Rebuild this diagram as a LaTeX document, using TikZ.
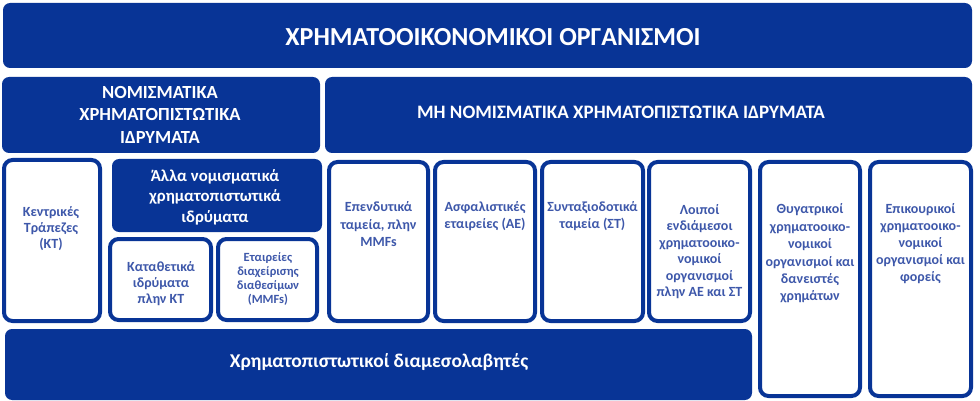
\documentclass[tikz,border=0pt]{standalone}
\usepackage{fontspec}
\setmainfont{Carlito}
\usepackage{xcolor}
\usepackage{tikz}

\definecolor{fiblue}{RGB}{8,52,150}
\definecolor{fitext}{RGB}{62,88,170}

\begin{document}
\begin{tikzpicture}[
        x=1pt,
        y=-1pt,
        banner/.style={
            rectangle,
            fill=fiblue,
            inner sep=0pt,
            rounded corners=2.5mm
        },
        bannertext/.style={
            text=white,
            align=center,
            inner sep=0pt,
            font=\bfseries\fontsize{19}{22.5}\selectfont
        },
        cell/.style={
            rectangle,
            draw=fiblue,
            line width=4pt,
            fill=white,
            inner sep=0pt,
            rounded corners=3mm
        },
        celltext/.style={
            text=fitext,
            align=center,
            inner sep=0pt,
            font=\bfseries\fontsize{14}{16.5}\selectfont
        },
        ]

        \path [fill=white,use as bounding box] (0,0) rectangle (980,401);

        % banners
        \node [banner,minimum width=969pt,minimum height=65pt] (fin-org) at (487.5,35.5) {};
        \node [banner,minimum width=318pt,minimum height=76pt] (monetary) at (161,115) {};
        \node [banner,minimum width=647pt,minimum height=76pt] (non-monetary) at (648.5,115) {};
        \node [banner,minimum width=210pt,minimum height=73pt] (other-monetary) at (217,195.5) {};
        \node [banner,minimum width=747pt,minimum height=71pt] (intermediaries) at (378.5,364.5) {};

        \node [bannertext,font=\bfseries\fontsize{26}{30}\selectfont] (fin-org-text) at (493,37) {ΧΡΗΜΑΤΟΟΙΚΟΝΟΜΙΚΟΙ ΟΡΓΑΝΙΣΜΟΙ};
        \node [bannertext,font=\bfseries\fontsize{18.5}{22.5}\selectfont] (monetary-text) at (160,114.5) {ΝΟΜΙΣΜΑΤΙΚΑ\\ΧΡΗΜΑΤΟΠΙΣΤΩΤΙΚΑ\\ΙΔΡΥΜΑΤΑ};
        \node [bannertext] (non-monetary-text) at (621,112) {ΜΗ ΝΟΜΙΣΜΑΤΙΚΑ ΧΡΗΜΑΤΟΠΙΣΤΩΤΙΚΑ ΙΔΡΥΜΑΤΑ};
        \node [bannertext,font=\bfseries\fontsize{16.75}{20.5}\selectfont] (other-monetary-text) at (215,197) {Άλλα νομισματικά\\χρηματοπιστωτικά\\ιδρύματα};
        \node [bannertext,font=\bfseries\fontsize{19.5}{22}\selectfont] (intermediaries-text) at (379,362) {Χρηματοπιστωτικοί διαμεσολαβητές};

        % cells
        \node [cell,minimum width=96pt,minimum height=161pt] (central-banks) at (52,240.5) {};
        \node [cell,minimum width=101pt,minimum height=81pt] (deposit) at (160.5,279.5) {};
        \node [cell,minimum width=99pt,minimum height=81pt] (mmf) at (267.5,279.5) {};
        \node [cell,minimum width=99pt,minimum height=159pt] (investment) at (378.5,241.5) {};
        \node [cell,minimum width=100pt,minimum height=159pt] (insurance) at (485,241.5) {};
        \node [cell,minimum width=101pt,minimum height=159pt] (pension) at (592.5,241.5) {};
        \node [cell,minimum width=101pt,minimum height=159pt] (other-intermediaries) at (699.5,241.5) {};
        \node [cell,minimum width=100pt,minimum height=234pt] (captive) at (810,279) {};
        \node [cell,minimum width=101pt,minimum height=234pt] (auxiliaries) at (920.5,279) {};

        % cell texts
        \node [celltext,font=\bfseries\fontsize{14}{16}\selectfont] (central-banks-text) at (51,229) {Κεντρικές\\Τράπεζες\\(ΚΤ)};
        \node [celltext,font=\bfseries\fontsize{14}{16}\selectfont] (deposit-text) at (161,284) {Καταθετικά\\ιδρύματα\\πλην ΚΤ};
        \node [celltext,font=\bfseries\fontsize{12.5}{14}\selectfont] (mmf-text) at (268,279) {Εταιρείες\\διαχείρισης\\διαθεσίμων\\(MMFs)};
        \node [celltext,font=\bfseries\fontsize{14}{17.5}\selectfont] (investment-text) at (378.5,224.5) {Επενδυτικά\\ταμεία, πλην\\MMFs};
        \node [celltext,font=\bfseries\fontsize{14}{17.5}\selectfont] (insurance-text) at (485,216) {Ασφαλιστικές\\εταιρείες (ΑΕ)};
        \node [celltext,font=\bfseries\fontsize{14}{17.5}\selectfont] (pension-text) at (592.5,216) {Συνταξιοδοτικά\\ταμεία (ΣΤ)};
        \node [celltext] (other-intermediaries-text) at (699.5,251.5) {Λοιποί\\ενδιάμεσοι\\χρηματοοικο-\\νομικοί\\οργανισμοί\\πλην ΑΕ και ΣΤ};
        \node [celltext,font=\bfseries\fontsize{14}{17.4}\selectfont] (captive-text) at (810,253.5) {Θυγατρικοί\\χρηματοοικο-\\νομικοί\\οργανισμοί και\\δανειστές\\χρημάτων};
        \node [celltext,font=\bfseries\fontsize{14}{17}\selectfont] (auxiliaries-text) at (920.5,244) {Επικουρικοί\\χρηματοοικο-\\νομικοί\\οργανισμοί και\\φορείς};
    \end{tikzpicture}
\end{document}
